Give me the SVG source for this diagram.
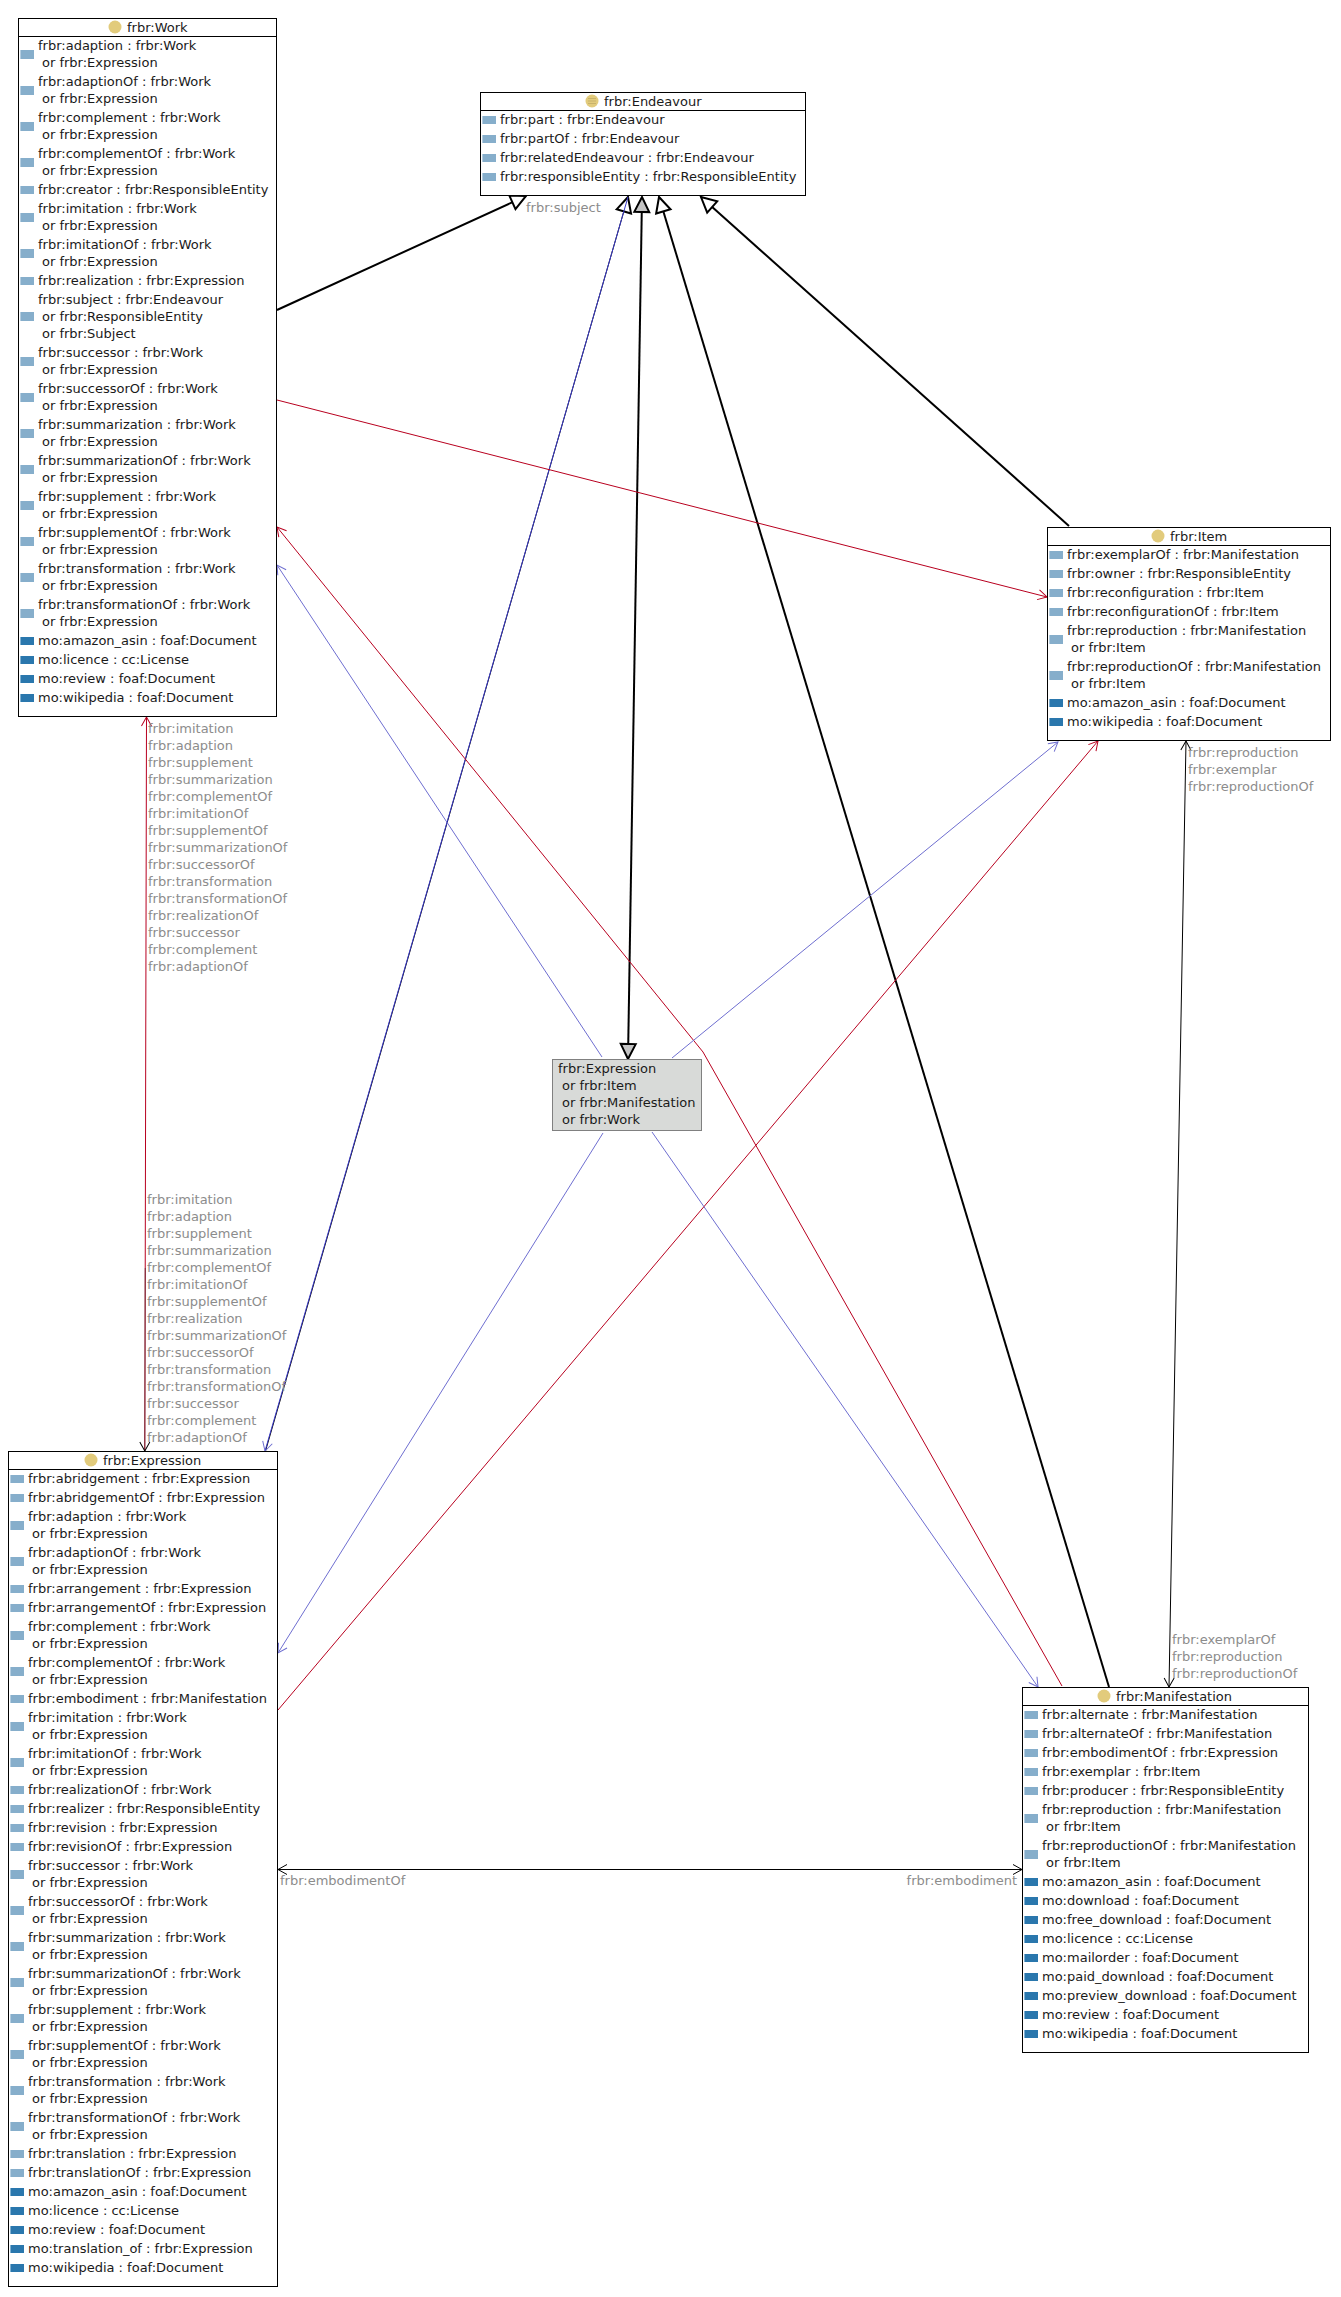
<svg xmlns="http://www.w3.org/2000/svg" width="1341" height="2297" viewBox="0 0 1341 2297">
<style>
text{font-family:"DejaVu Sans",sans-serif;font-size:13px;fill:#1a1a1a}
.box{fill:#fff;stroke:#000;stroke-width:1}
.u{fill:#d8dad8;stroke:#808080;stroke-width:1}
.h{stroke:#000;stroke-width:1}
.c{fill:#e2cb7c}
.cl{stroke:#c9b26a;stroke-width:1}
.p{fill:url(#pg)}
.m{fill:url(#mg)}
.g{fill:#8c8c8c}
.l{fill:none}
.thick{stroke:#000;stroke-width:2;marker-end:url(#tri)}
.red{stroke:#b8001f;stroke-width:1;marker-end:url(#or)}
.blue{stroke:#6e6ed0;stroke-width:1;marker-end:url(#ob)}
</style>
<defs>
<linearGradient id="pg"><stop offset="0.08" stop-color="#b4cde0"/><stop offset="0.08" stop-color="#86aecb"/></linearGradient>
<linearGradient id="mg"><stop offset="0.08" stop-color="#7fb0d2"/><stop offset="0.08" stop-color="#2a77ad"/></linearGradient>
<marker id="tri" markerUnits="userSpaceOnUse" orient="auto" overflow="visible" markerWidth="20" markerHeight="20"><path d="M-15,-7.5L0,0L-15,7.5Z" fill="#fff" stroke="#000" stroke-width="2"/></marker>
<marker id="grey" markerUnits="userSpaceOnUse" orient="auto-start-reverse" overflow="visible" markerWidth="20" markerHeight="20"><path d="M-15,-7.5L0,0L-15,7.5Z" fill="#c4c4c4" stroke="#000" stroke-width="2"/></marker>
<marker id="or" markerUnits="userSpaceOnUse" orient="auto" overflow="visible" markerWidth="14" markerHeight="14"><path d="M-9,-5L0,0L-9,5" fill="none" stroke="#b8001f"/></marker>
<marker id="ob" markerUnits="userSpaceOnUse" orient="auto" overflow="visible" markerWidth="14" markerHeight="14"><path d="M-9,-5L0,0L-9,5" fill="none" stroke="#6e6ed0"/></marker>
<marker id="ok" markerUnits="userSpaceOnUse" orient="auto-start-reverse" overflow="visible" markerWidth="14" markerHeight="14"><path d="M-9,-5L0,0L-9,5" fill="none" stroke="#000"/></marker>
</defs>
<rect width="1341" height="2297" fill="#fff"/>
<g id="connectors" class="l">
<line class="thick" x1="277" y1="310" x2="526" y2="196"/>
<line class="thick" x1="1109" y1="1687" x2="659" y2="197"/>
<line class="thick" x1="1069" y1="526" x2="701" y2="197"/>
<line x1="642" y1="197" x2="628" y2="1059" stroke="#000" stroke-width="2" marker-start="url(#grey)" marker-end="url(#grey)"/>
<line class="thick" x1="265.5" y1="1451" x2="628" y2="197" style="stroke:#000;stroke-width:1"/>
<line x1="628" y1="197" x2="265" y2="1451" stroke="#3a3ac8" stroke-width="1" marker-end="url(#ob)"/>
<line class="red" x1="277" y1="400" x2="1047" y2="597"/>
<polyline class="red" points="1062,1686 703,1052 277,527"/>
<line class="red" x1="278" y1="1710" x2="1098" y2="741"/>
<line class="red" x1="144.8" y1="1451" x2="146.5" y2="717"/>
<line x1="145.2" y1="1268" x2="144.8" y2="1451" stroke="#000" stroke-opacity="0.45" stroke-width="1" marker-end="url(#ok)"/>
<line class="blue" x1="672" y1="1058" x2="1058" y2="742"/>
<line class="blue" x1="602" y1="1057" x2="277" y2="565"/>
<line class="blue" x1="603" y1="1133" x2="278" y2="1653"/>
<line class="blue" x1="652" y1="1132" x2="1038" y2="1687"/>
<line x1="1186" y1="741" x2="1169" y2="1687" stroke="#000" marker-start="url(#ok)" marker-end="url(#ok)"/>
<line x1="278" y1="1869.5" x2="1022" y2="1869.5" stroke="#000" marker-start="url(#ok)" marker-end="url(#ok)"/>
<text class="g" x="526" y="212">frbr:subject</text>
<text class="g" x="148" y="733">frbr:imitation</text>
<text class="g" x="148" y="750">frbr:adaption</text>
<text class="g" x="148" y="767">frbr:supplement</text>
<text class="g" x="148" y="784">frbr:summarization</text>
<text class="g" x="148" y="801">frbr:complementOf</text>
<text class="g" x="148" y="818">frbr:imitationOf</text>
<text class="g" x="148" y="835">frbr:supplementOf</text>
<text class="g" x="148" y="852">frbr:summarizationOf</text>
<text class="g" x="148" y="869">frbr:successorOf</text>
<text class="g" x="148" y="886">frbr:transformation</text>
<text class="g" x="148" y="903">frbr:transformationOf</text>
<text class="g" x="148" y="920">frbr:realizationOf</text>
<text class="g" x="148" y="937">frbr:successor</text>
<text class="g" x="148" y="954">frbr:complement</text>
<text class="g" x="148" y="971">frbr:adaptionOf</text>
<text class="g" x="147" y="1204">frbr:imitation</text>
<text class="g" x="147" y="1221">frbr:adaption</text>
<text class="g" x="147" y="1238">frbr:supplement</text>
<text class="g" x="147" y="1255">frbr:summarization</text>
<text class="g" x="147" y="1272">frbr:complementOf</text>
<text class="g" x="147" y="1289">frbr:imitationOf</text>
<text class="g" x="147" y="1306">frbr:supplementOf</text>
<text class="g" x="147" y="1323">frbr:realization</text>
<text class="g" x="147" y="1340">frbr:summarizationOf</text>
<text class="g" x="147" y="1357">frbr:successorOf</text>
<text class="g" x="147" y="1374">frbr:transformation</text>
<text class="g" x="147" y="1391">frbr:transformationOf</text>
<text class="g" x="147" y="1408">frbr:successor</text>
<text class="g" x="147" y="1425">frbr:complement</text>
<text class="g" x="147" y="1442">frbr:adaptionOf</text>
<text class="g" x="1188" y="757">frbr:reproduction</text>
<text class="g" x="1188" y="774">frbr:exemplar</text>
<text class="g" x="1188" y="791">frbr:reproductionOf</text>
<text class="g" x="1172" y="1644">frbr:exemplarOf</text>
<text class="g" x="1172" y="1661">frbr:reproduction</text>
<text class="g" x="1172" y="1678">frbr:reproductionOf</text>
<text class="g" x="280" y="1885">frbr:embodimentOf</text>
<text class="g" x="1017" y="1885" text-anchor="end">frbr:embodiment</text>
</g>
<g id="work">
<rect class="box" x="18.5" y="18.5" width="258" height="698"/>
<line class="h" x1="18.5" y1="36.5" x2="276.5" y2="36.5"/>
<circle class="c" cx="115" cy="27" r="6.5"/>
<text x="127" y="32">frbr:Work</text>
<rect class="p" x="20" y="50" width="14" height="9"/><text x="38" y="50">frbr:adaption : frbr:Work</text><text x="42" y="67">or frbr:Expression</text>
<rect class="p" x="20" y="86" width="14" height="9"/><text x="38" y="86">frbr:adaptionOf : frbr:Work</text><text x="42" y="103">or frbr:Expression</text>
<rect class="p" x="20" y="122" width="14" height="9"/><text x="38" y="122">frbr:complement : frbr:Work</text><text x="42" y="139">or frbr:Expression</text>
<rect class="p" x="20" y="158" width="14" height="9"/><text x="38" y="158">frbr:complementOf : frbr:Work</text><text x="42" y="175">or frbr:Expression</text>
<rect class="p" x="20" y="186" width="14" height="8"/><text x="38" y="194">frbr:creator : frbr:ResponsibleEntity</text>
<rect class="p" x="20" y="213" width="14" height="9"/><text x="38" y="213">frbr:imitation : frbr:Work</text><text x="42" y="230">or frbr:Expression</text>
<rect class="p" x="20" y="249" width="14" height="9"/><text x="38" y="249">frbr:imitationOf : frbr:Work</text><text x="42" y="266">or frbr:Expression</text>
<rect class="p" x="20" y="277" width="14" height="8"/><text x="38" y="285">frbr:realization : frbr:Expression</text>
<rect class="p" x="20" y="312" width="14" height="9"/><text x="38" y="304">frbr:subject : frbr:Endeavour</text><text x="42" y="321">or frbr:ResponsibleEntity</text><text x="42" y="338">or frbr:Subject</text>
<rect class="p" x="20" y="357" width="14" height="9"/><text x="38" y="357">frbr:successor : frbr:Work</text><text x="42" y="374">or frbr:Expression</text>
<rect class="p" x="20" y="393" width="14" height="9"/><text x="38" y="393">frbr:successorOf : frbr:Work</text><text x="42" y="410">or frbr:Expression</text>
<rect class="p" x="20" y="429" width="14" height="9"/><text x="38" y="429">frbr:summarization : frbr:Work</text><text x="42" y="446">or frbr:Expression</text>
<rect class="p" x="20" y="465" width="14" height="9"/><text x="38" y="465">frbr:summarizationOf : frbr:Work</text><text x="42" y="482">or frbr:Expression</text>
<rect class="p" x="20" y="501" width="14" height="9"/><text x="38" y="501">frbr:supplement : frbr:Work</text><text x="42" y="518">or frbr:Expression</text>
<rect class="p" x="20" y="537" width="14" height="9"/><text x="38" y="537">frbr:supplementOf : frbr:Work</text><text x="42" y="554">or frbr:Expression</text>
<rect class="p" x="20" y="573" width="14" height="9"/><text x="38" y="573">frbr:transformation : frbr:Work</text><text x="42" y="590">or frbr:Expression</text>
<rect class="p" x="20" y="609" width="14" height="9"/><text x="38" y="609">frbr:transformationOf : frbr:Work</text><text x="42" y="626">or frbr:Expression</text>
<rect class="m" x="20" y="637" width="14" height="8"/><text x="38" y="645">mo:amazon_asin : foaf:Document</text>
<rect class="m" x="20" y="656" width="14" height="8"/><text x="38" y="664">mo:licence : cc:License</text>
<rect class="m" x="20" y="675" width="14" height="8"/><text x="38" y="683">mo:review : foaf:Document</text>
<rect class="m" x="20" y="694" width="14" height="8"/><text x="38" y="702">mo:wikipedia : foaf:Document</text>
</g>
<g id="endeavour">
<rect class="box" x="480.5" y="92.5" width="325" height="103"/>
<line class="h" x1="480.5" y1="110.5" x2="805.5" y2="110.5"/>
<circle class="c" cx="592" cy="101" r="6.5"/>
<line class="cl" x1="588" y1="98.5" x2="596" y2="98.5"/><line class="cl" x1="588" y1="101" x2="596" y2="101"/><line class="cl" x1="588" y1="103.5" x2="596" y2="103.5"/>
<text x="604" y="106">frbr:Endeavour</text>
<rect class="p" x="482" y="116" width="14" height="8"/><text x="500" y="124">frbr:part : frbr:Endeavour</text>
<rect class="p" x="482" y="135" width="14" height="8"/><text x="500" y="143">frbr:partOf : frbr:Endeavour</text>
<rect class="p" x="482" y="154" width="14" height="8"/><text x="500" y="162">frbr:relatedEndeavour : frbr:Endeavour</text>
<rect class="p" x="482" y="173" width="14" height="8"/><text x="500" y="181">frbr:responsibleEntity : frbr:ResponsibleEntity</text>
</g>
<g id="item">
<rect class="box" x="1047.5" y="527.5" width="283" height="213"/>
<line class="h" x1="1047.5" y1="545.5" x2="1330.5" y2="545.5"/>
<circle class="c" cx="1158" cy="536" r="6.5"/>
<text x="1170" y="541">frbr:Item</text>
<rect class="p" x="1049" y="551" width="14" height="8"/><text x="1067" y="559">frbr:exemplarOf : frbr:Manifestation</text>
<rect class="p" x="1049" y="570" width="14" height="8"/><text x="1067" y="578">frbr:owner : frbr:ResponsibleEntity</text>
<rect class="p" x="1049" y="589" width="14" height="8"/><text x="1067" y="597">frbr:reconfiguration : frbr:Item</text>
<rect class="p" x="1049" y="608" width="14" height="8"/><text x="1067" y="616">frbr:reconfigurationOf : frbr:Item</text>
<rect class="p" x="1049" y="635" width="14" height="9"/><text x="1067" y="635">frbr:reproduction : frbr:Manifestation</text><text x="1071" y="652">or frbr:Item</text>
<rect class="p" x="1049" y="671" width="14" height="9"/><text x="1067" y="671">frbr:reproductionOf : frbr:Manifestation</text><text x="1071" y="688">or frbr:Item</text>
<rect class="m" x="1049" y="699" width="14" height="8"/><text x="1067" y="707">mo:amazon_asin : foaf:Document</text>
<rect class="m" x="1049" y="718" width="14" height="8"/><text x="1067" y="726">mo:wikipedia : foaf:Document</text>
</g>
<g id="union">
<rect class="u" x="552.5" y="1059.5" width="149" height="71"/>
<text x="558" y="1073">frbr:Expression</text>
<text x="562" y="1090">or frbr:Item</text>
<text x="562" y="1107">or frbr:Manifestation</text>
<text x="562" y="1124">or frbr:Work</text>
</g>
<g id="expression">
<rect class="box" x="8.5" y="1451.5" width="269" height="835"/>
<line class="h" x1="8.5" y1="1469.5" x2="277.5" y2="1469.5"/>
<circle class="c" cx="91" cy="1460" r="6.5"/>
<text x="103" y="1465">frbr:Expression</text>
<rect class="p" x="10" y="1475" width="14" height="8"/><text x="28" y="1483">frbr:abridgement : frbr:Expression</text>
<rect class="p" x="10" y="1494" width="14" height="8"/><text x="28" y="1502">frbr:abridgementOf : frbr:Expression</text>
<rect class="p" x="10" y="1521" width="14" height="9"/><text x="28" y="1521">frbr:adaption : frbr:Work</text><text x="32" y="1538">or frbr:Expression</text>
<rect class="p" x="10" y="1557" width="14" height="9"/><text x="28" y="1557">frbr:adaptionOf : frbr:Work</text><text x="32" y="1574">or frbr:Expression</text>
<rect class="p" x="10" y="1585" width="14" height="8"/><text x="28" y="1593">frbr:arrangement : frbr:Expression</text>
<rect class="p" x="10" y="1604" width="14" height="8"/><text x="28" y="1612">frbr:arrangementOf : frbr:Expression</text>
<rect class="p" x="10" y="1631" width="14" height="9"/><text x="28" y="1631">frbr:complement : frbr:Work</text><text x="32" y="1648">or frbr:Expression</text>
<rect class="p" x="10" y="1667" width="14" height="9"/><text x="28" y="1667">frbr:complementOf : frbr:Work</text><text x="32" y="1684">or frbr:Expression</text>
<rect class="p" x="10" y="1695" width="14" height="8"/><text x="28" y="1703">frbr:embodiment : frbr:Manifestation</text>
<rect class="p" x="10" y="1722" width="14" height="9"/><text x="28" y="1722">frbr:imitation : frbr:Work</text><text x="32" y="1739">or frbr:Expression</text>
<rect class="p" x="10" y="1758" width="14" height="9"/><text x="28" y="1758">frbr:imitationOf : frbr:Work</text><text x="32" y="1775">or frbr:Expression</text>
<rect class="p" x="10" y="1786" width="14" height="8"/><text x="28" y="1794">frbr:realizationOf : frbr:Work</text>
<rect class="p" x="10" y="1805" width="14" height="8"/><text x="28" y="1813">frbr:realizer : frbr:ResponsibleEntity</text>
<rect class="p" x="10" y="1824" width="14" height="8"/><text x="28" y="1832">frbr:revision : frbr:Expression</text>
<rect class="p" x="10" y="1843" width="14" height="8"/><text x="28" y="1851">frbr:revisionOf : frbr:Expression</text>
<rect class="p" x="10" y="1870" width="14" height="9"/><text x="28" y="1870">frbr:successor : frbr:Work</text><text x="32" y="1887">or frbr:Expression</text>
<rect class="p" x="10" y="1906" width="14" height="9"/><text x="28" y="1906">frbr:successorOf : frbr:Work</text><text x="32" y="1923">or frbr:Expression</text>
<rect class="p" x="10" y="1942" width="14" height="9"/><text x="28" y="1942">frbr:summarization : frbr:Work</text><text x="32" y="1959">or frbr:Expression</text>
<rect class="p" x="10" y="1978" width="14" height="9"/><text x="28" y="1978">frbr:summarizationOf : frbr:Work</text><text x="32" y="1995">or frbr:Expression</text>
<rect class="p" x="10" y="2014" width="14" height="9"/><text x="28" y="2014">frbr:supplement : frbr:Work</text><text x="32" y="2031">or frbr:Expression</text>
<rect class="p" x="10" y="2050" width="14" height="9"/><text x="28" y="2050">frbr:supplementOf : frbr:Work</text><text x="32" y="2067">or frbr:Expression</text>
<rect class="p" x="10" y="2086" width="14" height="9"/><text x="28" y="2086">frbr:transformation : frbr:Work</text><text x="32" y="2103">or frbr:Expression</text>
<rect class="p" x="10" y="2122" width="14" height="9"/><text x="28" y="2122">frbr:transformationOf : frbr:Work</text><text x="32" y="2139">or frbr:Expression</text>
<rect class="p" x="10" y="2150" width="14" height="8"/><text x="28" y="2158">frbr:translation : frbr:Expression</text>
<rect class="p" x="10" y="2169" width="14" height="8"/><text x="28" y="2177">frbr:translationOf : frbr:Expression</text>
<rect class="m" x="10" y="2188" width="14" height="8"/><text x="28" y="2196">mo:amazon_asin : foaf:Document</text>
<rect class="m" x="10" y="2207" width="14" height="8"/><text x="28" y="2215">mo:licence : cc:License</text>
<rect class="m" x="10" y="2226" width="14" height="8"/><text x="28" y="2234">mo:review : foaf:Document</text>
<rect class="m" x="10" y="2245" width="14" height="8"/><text x="28" y="2253">mo:translation_of : frbr:Expression</text>
<rect class="m" x="10" y="2264" width="14" height="8"/><text x="28" y="2272">mo:wikipedia : foaf:Document</text>
</g>
<g id="manifestation">
<rect class="box" x="1022.5" y="1687.5" width="286" height="365"/>
<line class="h" x1="1022.5" y1="1705.5" x2="1308.5" y2="1705.5"/>
<circle class="c" cx="1104" cy="1696" r="6.5"/>
<text x="1116" y="1701">frbr:Manifestation</text>
<rect class="p" x="1024" y="1711" width="14" height="8"/><text x="1042" y="1719">frbr:alternate : frbr:Manifestation</text>
<rect class="p" x="1024" y="1730" width="14" height="8"/><text x="1042" y="1738">frbr:alternateOf : frbr:Manifestation</text>
<rect class="p" x="1024" y="1749" width="14" height="8"/><text x="1042" y="1757">frbr:embodimentOf : frbr:Expression</text>
<rect class="p" x="1024" y="1768" width="14" height="8"/><text x="1042" y="1776">frbr:exemplar : frbr:Item</text>
<rect class="p" x="1024" y="1787" width="14" height="8"/><text x="1042" y="1795">frbr:producer : frbr:ResponsibleEntity</text>
<rect class="p" x="1024" y="1814" width="14" height="9"/><text x="1042" y="1814">frbr:reproduction : frbr:Manifestation</text><text x="1046" y="1831">or frbr:Item</text>
<rect class="p" x="1024" y="1850" width="14" height="9"/><text x="1042" y="1850">frbr:reproductionOf : frbr:Manifestation</text><text x="1046" y="1867">or frbr:Item</text>
<rect class="m" x="1024" y="1878" width="14" height="8"/><text x="1042" y="1886">mo:amazon_asin : foaf:Document</text>
<rect class="m" x="1024" y="1897" width="14" height="8"/><text x="1042" y="1905">mo:download : foaf:Document</text>
<rect class="m" x="1024" y="1916" width="14" height="8"/><text x="1042" y="1924">mo:free_download : foaf:Document</text>
<rect class="m" x="1024" y="1935" width="14" height="8"/><text x="1042" y="1943">mo:licence : cc:License</text>
<rect class="m" x="1024" y="1954" width="14" height="8"/><text x="1042" y="1962">mo:mailorder : foaf:Document</text>
<rect class="m" x="1024" y="1973" width="14" height="8"/><text x="1042" y="1981">mo:paid_download : foaf:Document</text>
<rect class="m" x="1024" y="1992" width="14" height="8"/><text x="1042" y="2000">mo:preview_download : foaf:Document</text>
<rect class="m" x="1024" y="2011" width="14" height="8"/><text x="1042" y="2019">mo:review : foaf:Document</text>
<rect class="m" x="1024" y="2030" width="14" height="8"/><text x="1042" y="2038">mo:wikipedia : foaf:Document</text>
</g>
</svg>
